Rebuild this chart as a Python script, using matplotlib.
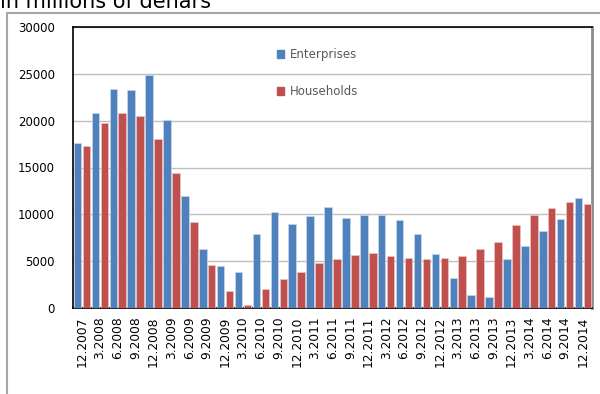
import numpy as np
import matplotlib
matplotlib.use('Agg')
import matplotlib.pyplot as plt
from matplotlib.patches import Rectangle, Patch

# Quarterly values, in millions of denars
quarters = ['12.2007', '3.2008', '6.2008', '9.2008', '12.2008', '3.2009', '6.2009',
            '9.2009', '12.2009', '3.2010', '6.2010', '9.2010', '12.2010', '3.2011',
            '6.2011', '9.2011', '12.2011', '3.2012', '6.2012', '9.2012', '12.2012',
            '3.2013', '6.2013', '9.2013', '12.2013', '3.2014', '6.2014', '9.2014',
            '12.2014']
enterprises = [17600, 20850, 23370, 23230, 24860, 20030, 11950, 6280, 4470, 3870,
               7870, 10280, 8970, 9820, 10740, 9570, 9930, 9890, 9400, 7870,
               5740, 3190, 1420, 1140, 5280, 6630, 8230, 9540, 11700]
households = [17340, 19750, 20780, 20530, 18050, 14400, 9180, 4540, 1770, 360,
              2020, 3090, 3870, 4820, 5210, 5640, 5890, 5500, 5320, 5250,
              5320, 5570, 6310, 7090, 8870, 9930, 10710, 11280, 11100]
yticks = [0, 5000, 10000, 15000, 20000, 25000, 30000]

blue = '#4F81BD'
red = '#C0504D'

fig = plt.figure(figsize=(6, 3.94), dpi=100)
ax = fig.add_axes([73 / 600, 1 - 308 / 394, 519 / 600, 281 / 394])

x = np.arange(len(quarters))
w = 0.42
ax.bar(x - 0.25, enterprises, width=w, color=blue, edgecolor='#C9D7EA', linewidth=0.5, zorder=3)
ax.bar(x + 0.25, households, width=w, color=red, edgecolor='#EBC7C6', linewidth=0.5, zorder=3)

ax.set_xlim(-0.5, len(quarters) - 0.5)
ax.set_ylim(0, 30000)
ax.set_yticks(yticks)
ax.set_yticklabels([str(v) for v in yticks], fontsize=8.5)
ax.set_xticks(x)
ax.set_xticklabels(quarters, rotation=90, fontsize=8.8)
ax.tick_params(axis='both', length=0)
ax.tick_params(axis='y', pad=13)
ax.tick_params(axis='x', pad=6)
ax.yaxis.grid(True, color='#BFBFBF', linewidth=1, zorder=0)
ax.set_axisbelow(True)

for side in ['left', 'bottom', 'top']:
    ax.spines[side].set_color('black')
    ax.spines[side].set_linewidth(1.2)
ax.spines['right'].set_color('#8C8C8C')
ax.spines['right'].set_linewidth(2)

handles = [Patch(color=blue), Patch(color=red)]
leg = ax.legend(handles, ['Enterprises', 'Households'], loc='upper left',
                bbox_to_anchor=(0.393, 0.925), frameon=False, fontsize=8.5,
                handlelength=0.6, handleheight=0.6, handletextpad=0.5,
                labelspacing=2.05, borderpad=0, borderaxespad=0)
for t in leg.get_texts():
    t.set_color('#595959')

# outer chart frame (only left and top edges visible)
frame = Rectangle((7 / 600, -0.2), 1.2, 1.2 - 13 / 394, transform=fig.transFigure,
                  fill=False, edgecolor='#A6A6A6', linewidth=1.5, clip_on=False)
fig.patches.append(frame)

fig.text(0.0, 1 - 8.5 / 394, 'in millions of denars', fontsize=15, va='baseline', ha='left')

fig.savefig('out.png', dpi=100)
